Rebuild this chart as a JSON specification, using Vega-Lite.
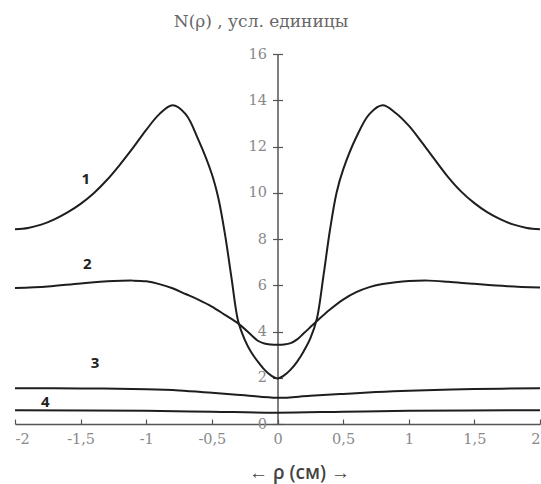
{
  "$schema": "https://vega.github.io/schema/vega-lite/v6.json",
  "width": 525,
  "height": 370,
  "autosize": "none",
  "padding": {"left": 15, "top": 54, "right": 1, "bottom": 60},
  "config": {"view": {"stroke": null}, "axis": {"grid": false}},
  "layer": [
    {
      "data": {"values": [
        {"s": "1", "rho": -2, "N": 8.42}, {"s": "1", "rho": -1.9, "N": 8.48}, {"s": "1", "rho": -1.8, "N": 8.62}, {"s": "1", "rho": -1.7, "N": 8.85}, {"s": "1", "rho": -1.6, "N": 9.15}, {"s": "1", "rho": -1.5, "N": 9.52}, {"s": "1", "rho": -1.4, "N": 9.98}, {"s": "1", "rho": -1.3, "N": 10.55}, {"s": "1", "rho": -1.2, "N": 11.22}, {"s": "1", "rho": -1.1, "N": 11.95}, {"s": "1", "rho": -1.0, "N": 12.72}, {"s": "1", "rho": -0.9, "N": 13.4}, {"s": "1", "rho": -0.8, "N": 13.78}, {"s": "1", "rho": -0.7, "N": 13.4}, {"s": "1", "rho": -0.6, "N": 12.25}, {"s": "1", "rho": -0.5, "N": 10.8}, {"s": "1", "rho": -0.45, "N": 9.75}, {"s": "1", "rho": -0.4, "N": 8.2}, {"s": "1", "rho": -0.35, "N": 6.3}, {"s": "1", "rho": -0.3, "N": 4.45}, {"s": "1", "rho": -0.25, "N": 3.65}, {"s": "1", "rho": -0.2, "N": 3.1}, {"s": "1", "rho": -0.15, "N": 2.7}, {"s": "1", "rho": -0.1, "N": 2.35}, {"s": "1", "rho": -0.05, "N": 2.1}, {"s": "1", "rho": 0, "N": 1.97},
        {"s": "1", "rho": 0.05, "N": 2.1}, {"s": "1", "rho": 0.1, "N": 2.35}, {"s": "1", "rho": 0.15, "N": 2.7}, {"s": "1", "rho": 0.2, "N": 3.15}, {"s": "1", "rho": 0.25, "N": 3.7}, {"s": "1", "rho": 0.3, "N": 4.55}, {"s": "1", "rho": 0.35, "N": 6.4}, {"s": "1", "rho": 0.4, "N": 8.4}, {"s": "1", "rho": 0.45, "N": 10.0}, {"s": "1", "rho": 0.5, "N": 11.0}, {"s": "1", "rho": 0.6, "N": 12.4}, {"s": "1", "rho": 0.7, "N": 13.4}, {"s": "1", "rho": 0.8, "N": 13.78}, {"s": "1", "rho": 0.9, "N": 13.45}, {"s": "1", "rho": 1.0, "N": 12.9}, {"s": "1", "rho": 1.1, "N": 12.18}, {"s": "1", "rho": 1.2, "N": 11.42}, {"s": "1", "rho": 1.3, "N": 10.68}, {"s": "1", "rho": 1.4, "N": 10.05}, {"s": "1", "rho": 1.5, "N": 9.55}, {"s": "1", "rho": 1.6, "N": 9.15}, {"s": "1", "rho": 1.7, "N": 8.85}, {"s": "1", "rho": 1.8, "N": 8.62}, {"s": "1", "rho": 1.9, "N": 8.48}, {"s": "1", "rho": 2, "N": 8.42},
        {"s": "2", "rho": -2, "N": 5.88}, {"s": "2", "rho": -1.75, "N": 5.95}, {"s": "2", "rho": -1.5, "N": 6.08}, {"s": "2", "rho": -1.25, "N": 6.18}, {"s": "2", "rho": -1.1, "N": 6.2}, {"s": "2", "rho": -1.0, "N": 6.17}, {"s": "2", "rho": -0.9, "N": 6.05}, {"s": "2", "rho": -0.8, "N": 5.87}, {"s": "2", "rho": -0.7, "N": 5.62}, {"s": "2", "rho": -0.6, "N": 5.37}, {"s": "2", "rho": -0.5, "N": 5.08}, {"s": "2", "rho": -0.4, "N": 4.72}, {"s": "2", "rho": -0.3, "N": 4.35}, {"s": "2", "rho": -0.2, "N": 3.85}, {"s": "2", "rho": -0.15, "N": 3.6}, {"s": "2", "rho": -0.1, "N": 3.48}, {"s": "2", "rho": -0.05, "N": 3.44}, {"s": "2", "rho": 0, "N": 3.43},
        {"s": "2", "rho": 0.05, "N": 3.44}, {"s": "2", "rho": 0.1, "N": 3.5}, {"s": "2", "rho": 0.15, "N": 3.66}, {"s": "2", "rho": 0.2, "N": 3.92}, {"s": "2", "rho": 0.3, "N": 4.45}, {"s": "2", "rho": 0.4, "N": 4.95}, {"s": "2", "rho": 0.5, "N": 5.38}, {"s": "2", "rho": 0.6, "N": 5.7}, {"s": "2", "rho": 0.7, "N": 5.92}, {"s": "2", "rho": 0.8, "N": 6.05}, {"s": "2", "rho": 0.9, "N": 6.13}, {"s": "2", "rho": 1.0, "N": 6.18}, {"s": "2", "rho": 1.15, "N": 6.2}, {"s": "2", "rho": 1.3, "N": 6.15}, {"s": "2", "rho": 1.5, "N": 6.06}, {"s": "2", "rho": 1.75, "N": 5.96}, {"s": "2", "rho": 2, "N": 5.9},
        {"s": "3", "rho": -2, "N": 1.55}, {"s": "3", "rho": -1.5, "N": 1.54}, {"s": "3", "rho": -1.0, "N": 1.5}, {"s": "3", "rho": -0.75, "N": 1.45}, {"s": "3", "rho": -0.5, "N": 1.35}, {"s": "3", "rho": -0.25, "N": 1.24}, {"s": "3", "rho": 0, "N": 1.13}, {"s": "3", "rho": 0.25, "N": 1.22}, {"s": "3", "rho": 0.5, "N": 1.3}, {"s": "3", "rho": 0.75, "N": 1.38}, {"s": "3", "rho": 1.0, "N": 1.44}, {"s": "3", "rho": 1.5, "N": 1.51}, {"s": "3", "rho": 2, "N": 1.55},
        {"s": "4", "rho": -2, "N": 0.6}, {"s": "4", "rho": -1.0, "N": 0.57}, {"s": "4", "rho": -0.5, "N": 0.53}, {"s": "4", "rho": 0, "N": 0.49}, {"s": "4", "rho": 0.5, "N": 0.53}, {"s": "4", "rho": 1.0, "N": 0.57}, {"s": "4", "rho": 2, "N": 0.6}
      ]},
      "mark": {"type": "line", "interpolate": "catmull-rom", "color": "#1e1e1e", "strokeWidth": 2},
      "encoding": {
        "x": {"field": "rho", "type": "quantitative",
          "scale": {"domain": [-2, 2], "nice": false, "zero": false},
          "axis": {"title": "←  ρ  (см) →", "values": [-2, -1.5, -1, -0.5, 0, 0.5, 1, 1.5, 2],
            "labelExpr": "replace(datum.value + '', '.', ',')",
            "tickSize": -5, "tickColor": "#555", "tickWidth": 1.2, "domainColor": "#555", "domainWidth": 1.5,
            "labelFont": "DejaVu Serif", "labelFontSize": 14.5, "labelColor": "#888", "labelPadding": 13,
            "titleFont": "Open Sans", "titleFontSize": 19, "titleFontWeight": 600, "titleColor": "#444",
            "titleX": 284, "titleY": 48, "titleBaseline": "middle"}},
        "y": {"field": "N", "type": "quantitative",
          "scale": {"domain": [0, 16], "nice": false},
          "axis": {"orient": "left", "offset": -262.5, "values": [0, 2, 4, 6, 8, 10, 12, 14, 16],
            "title": "N(ρ) , усл. единицы", "titleAngle": 0, "titleX": -17, "titleY": -33, "titleAlign": "center", "titleBaseline": "middle",
            "titleFont": "DejaVu Serif", "titleFontSize": 17, "titleFontWeight": "normal", "titleColor": "#666",
            "tickSize": 5, "tickColor": "#555", "tickWidth": 1.2, "domainColor": "#555", "domainWidth": 1.5,
            "labelFont": "DejaVu Serif", "labelFontSize": 14.5, "labelColor": "#888", "labelPadding": 6}},
        "detail": {"field": "s"}
      }
    },
    {
      "data": {"values": [
        {"lab": "1", "rho": -1.46, "N": 10.6},
        {"lab": "2", "rho": -1.45, "N": 6.9},
        {"lab": "3", "rho": -1.39, "N": 2.64},
        {"lab": "4", "rho": -1.77, "N": 0.95}
      ]},
      "mark": {"type": "text", "font": "Open Sans", "fontSize": 15, "fontWeight": "bold", "color": "#222"},
      "encoding": {
        "x": {"field": "rho", "type": "quantitative"},
        "y": {"field": "N", "type": "quantitative",
          "axis": {"orient": "right", "offset": -262.5, "values": [0, 2, 4, 6, 8, 10, 12, 14, 16], "labels": false, "domain": false, "title": null,
            "tickSize": 5, "tickColor": "#555", "tickWidth": 1.2}},
        "text": {"field": "lab"}
      }
    }
  ],
  "resolve": {"axis": {"y": "independent"}}
}
